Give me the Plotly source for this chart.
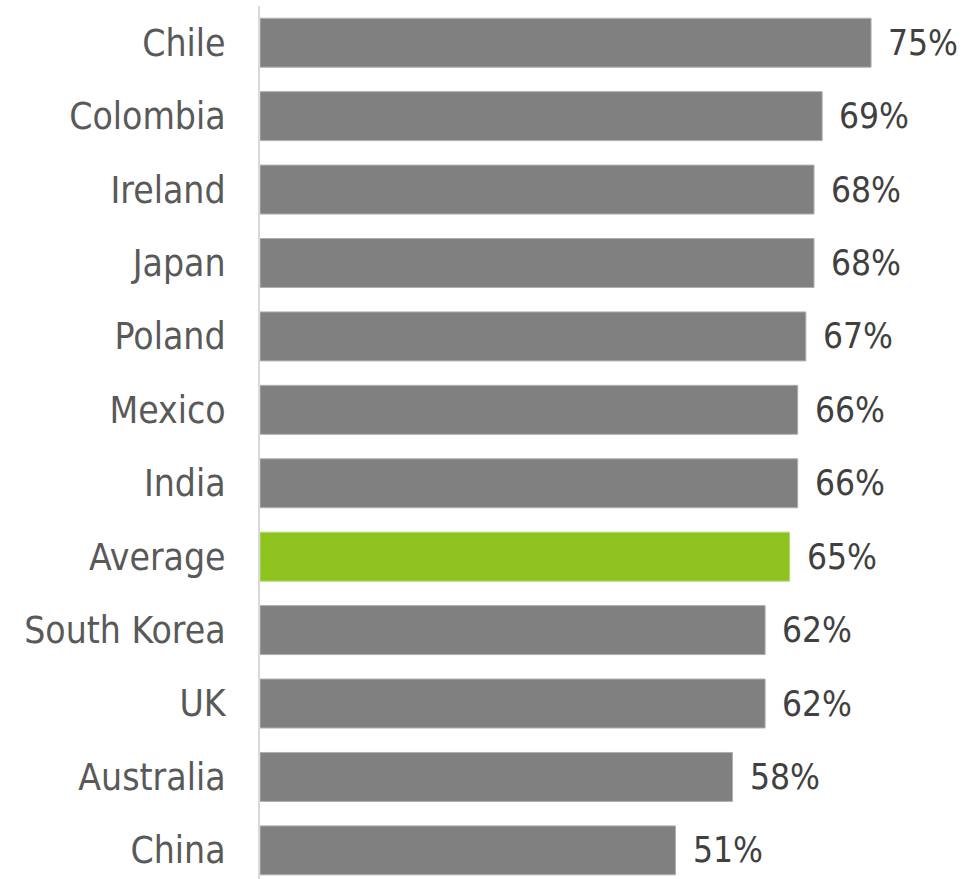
import plotly.graph_objects as go

# Data
countries = ['Chile', 'Colombia', 'Ireland', 'Japan', 'Poland', 'Mexico', 'India',
             'Average', 'South Korea', 'UK', 'Australia', 'China']
values = [75, 69, 68, 68, 67, 66, 66, 65, 62, 62, 58, 51]
highlight = 'Average'

FONT = 'DejaVu Sans Condensed, Liberation Sans Narrow, DejaVu Sans, sans-serif'

colors = ['#8dc21f' if c == highlight else '#808080' for c in countries]
edges = ['#b5d97a' if c == highlight else '#b0b0b0' for c in countries]

fig = go.Figure(go.Bar(
    x=values,
    y=countries,
    orientation='h',
    marker=dict(color=colors, line=dict(color=edges, width=1)),
    width=0.667,
    hoverinfo='x+y',
))

# value labels to the right of each bar
for c, v in zip(countries, values):
    fig.add_annotation(
        x=v, y=c, text=f'{v}%', showarrow=False,
        xanchor='left', yanchor='middle', xshift=15,
        font=dict(family=FONT, size=35, color='#404040'),
    )

fig.update_layout(
    width=979,
    height=879,
    margin=dict(l=260, r=0, t=6, b=0),
    plot_bgcolor='white',
    paper_bgcolor='white',
    showlegend=False,
    xaxis=dict(range=[0, 88.25], visible=False, fixedrange=True),
    yaxis=dict(
        categoryorder='array',
        categoryarray=countries,
        range=[11.39, -0.5],
        showline=True,
        linecolor='#d9d9d9',
        linewidth=2,
        ticks='',
        showgrid=False,
        ticklabelstandoff=25,
        tickfont=dict(family=FONT, size=37, color='#595959'),
    ),
)

# drop the default page margin so the figure sits at the window's corner
fig.write_html('out.html', config={'displayModeBar': False},
               post_script="document.body.style.margin='0';")
